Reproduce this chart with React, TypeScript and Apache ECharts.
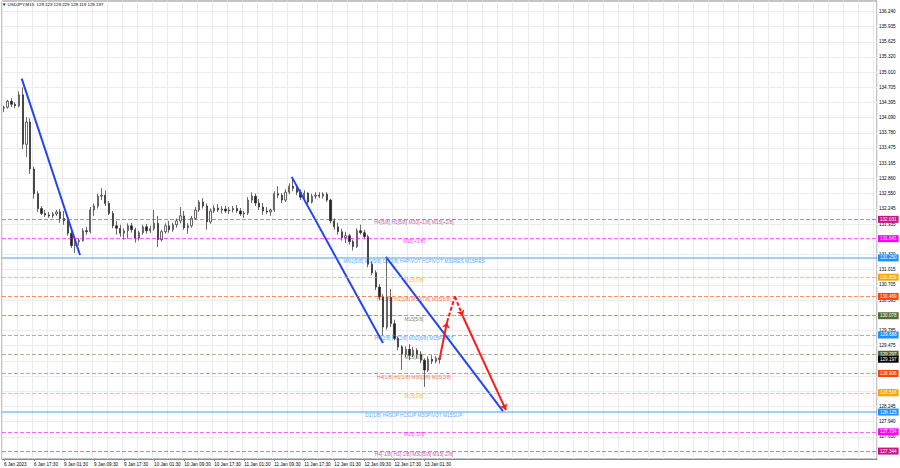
import React, { useEffect, useRef } from "react";
import * as echarts from "echarts";

const FONT = "'Liberation Sans', Arial, sans-serif";
const titleText = "▼ USDJPY,M15  129.123 129.229 129.119 129.197";

const SLOTS = 233;
const LABEL_STEP = 8;
const GRID_STEP = 4;
const timeLabels = [
  "6 Jan 2023", "6 Jan 17:30", "9 Jan 01:30", "9 Jan 09:30", "9 Jan 17:30",
  "10 Jan 01:30", "10 Jan 09:30", "10 Jan 17:30", "11 Jan 01:30", "11 Jan 09:30",
  "11 Jan 17:30", "12 Jan 01:30", "12 Jan 09:30", "12 Jan 17:30", "13 Jan 01:30",
];

// grid rows (price ticks) and the subset whose labels are not covered by a price tag
const priceTicks = [
  127.63, 127.94, 128.245, 128.55, 128.855, 129.165, 129.475, 129.785, 130.09, 130.395,
  130.705, 131.015, 131.32, 131.63, 131.935, 132.245, 132.55, 132.86, 133.165, 133.475,
  133.78, 134.09, 134.395, 134.705, 135.01, 135.32, 135.625, 135.935, 136.24,
];
const priceTickLabels = [
  127.63, 127.94, 128.245, 128.55, 129.165, 129.475, 129.785, 130.09, 130.395,
  130.705, 131.015, 131.32, 131.63, 131.935, 132.245, 132.55, 132.86, 133.165, 133.475,
  133.78, 134.09, 134.395, 134.705, 135.01, 135.32, 135.625, 135.935, 136.24,
];

const opens = [
  134.28, 134.30, 134.42, 134.36, 134.33, 134.55, 133.55, 134.00, 133.05, 132.55,
  132.25, 132.15, 132.12, 132.10, 132.14, 132.18, 132.05, 132.00, 131.75, 131.50,
  131.58, 131.60, 131.80, 131.78, 132.22, 132.30, 132.50, 132.52, 132.35, 132.15,
  131.90, 131.85, 131.75, 131.80, 131.90, 131.82, 131.65, 131.76, 131.88, 131.80,
  131.84, 131.95, 131.62, 131.78, 131.90, 131.82, 131.92, 132.00, 132.10, 131.86,
  131.90, 132.05, 132.22, 132.38, 132.30, 131.98, 132.20, 132.26, 132.22, 132.24,
  132.20, 132.22, 132.25, 132.20, 132.14, 132.16, 132.42, 132.50, 132.36, 132.28,
  132.20, 132.18, 132.22, 132.55, 132.52, 132.42, 132.58, 132.70, 132.66, 132.58,
  132.48, 132.56, 132.38, 132.50, 132.52, 132.50, 132.54, 132.42, 132.00, 131.88,
  131.78, 131.66, 131.70, 131.58, 131.48, 131.80, 131.76, 131.68, 131.12, 130.95,
  130.66, 130.46, 129.85, 130.45, 129.92, 129.62, 129.45, 129.30, 129.40, 129.28,
  129.38, 129.30, 129.18, 128.98, 129.20, 129.16, 129.22,
];
const highs = [
  134.33, 134.45, 134.48, 134.40, 134.62, 134.70, 134.10, 134.08, 133.10, 132.60,
  132.30, 132.22, 132.18, 132.18, 132.22, 132.24, 132.20, 132.05, 131.80, 131.62,
  131.65, 131.85, 131.88, 132.28, 132.35, 132.55, 132.66, 132.62, 132.40, 132.20,
  132.00, 131.92, 131.85, 131.95, 131.96, 131.86, 131.80, 131.92, 131.94, 131.90,
  132.22, 132.10, 131.82, 131.95, 132.00, 131.96, 132.05, 132.28, 132.20, 131.95,
  132.10, 132.28, 132.42, 132.46, 132.35, 132.25, 132.32, 132.34, 132.30, 132.30,
  132.28, 132.30, 132.32, 132.26, 132.20, 132.48, 132.58, 132.55, 132.44, 132.36,
  132.28, 132.25, 132.60, 132.70, 132.56, 132.64, 132.76, 132.85, 132.74, 132.64,
  132.62, 132.58, 132.55, 132.58, 132.58, 132.58, 132.58, 132.45, 132.05, 131.96,
  131.84, 131.78, 131.74, 131.62, 131.85, 131.92, 131.82, 131.72, 131.18, 131.00,
  130.72, 130.52, 131.25, 130.62, 130.00, 129.66, 129.48, 129.46, 129.50, 129.45,
  129.42, 129.36, 129.22, 129.26, 129.28, 129.26, 129.25,
];
const lows = [
  134.20, 134.27, 134.30, 134.28, 134.30, 133.45, 133.29, 132.95, 132.45, 132.18,
  132.12, 132.08, 132.06, 132.06, 132.10, 131.96, 131.92, 131.70, 131.45, 131.35,
  131.50, 131.58, 131.72, 131.74, 132.10, 132.25, 132.42, 132.30, 132.12, 131.85,
  131.72, 131.68, 131.62, 131.64, 131.76, 131.56, 131.60, 131.72, 131.74, 131.75,
  131.80, 131.47, 131.58, 131.74, 131.76, 131.78, 131.86, 131.95, 131.82, 131.74,
  131.86, 132.02, 132.18, 132.25, 131.82, 131.94, 132.16, 132.18, 132.15, 132.16,
  132.14, 132.17, 132.16, 132.10, 132.06, 132.12, 132.36, 132.30, 132.22, 132.12,
  132.14, 132.10, 132.18, 132.46, 132.36, 132.38, 132.54, 132.60, 132.52, 132.42,
  132.42, 132.32, 132.35, 132.44, 132.46, 132.45, 132.38, 131.95, 131.82, 131.72,
  131.60, 131.55, 131.52, 131.40, 131.45, 131.72, 131.64, 131.06, 130.90, 130.60,
  130.40, 129.68, 129.80, 129.85, 129.58, 129.38, 128.98, 129.24, 129.18, 129.24,
  129.22, 129.12, 128.64, 128.94, 129.10, 129.12, 129.11,
];
const closes = [
  134.30, 134.42, 134.36, 134.33, 134.55, 133.55, 134.00, 133.05, 132.55, 132.25,
  132.15, 132.12, 132.10, 132.14, 132.18, 132.05, 132.00, 131.75, 131.50, 131.58,
  131.60, 131.80, 131.78, 132.22, 132.30, 132.50, 132.52, 132.35, 132.15, 131.90,
  131.85, 131.75, 131.80, 131.90, 131.82, 131.65, 131.76, 131.88, 131.80, 131.84,
  131.95, 131.62, 131.78, 131.90, 131.82, 131.92, 132.00, 132.10, 131.86, 131.90,
  132.05, 132.22, 132.38, 132.30, 131.98, 132.20, 132.26, 132.22, 132.24, 132.20,
  132.22, 132.25, 132.20, 132.14, 132.16, 132.42, 132.50, 132.36, 132.28, 132.20,
  132.18, 132.22, 132.55, 132.52, 132.42, 132.58, 132.70, 132.66, 132.58, 132.48,
  132.56, 132.38, 132.50, 132.52, 132.50, 132.54, 132.42, 132.00, 131.88, 131.78,
  131.66, 131.70, 131.58, 131.48, 131.80, 131.76, 131.68, 131.12, 130.95, 130.66,
  130.46, 129.85, 130.45, 129.92, 129.62, 129.45, 129.30, 129.40, 129.28, 129.38,
  129.30, 129.18, 128.98, 129.20, 129.16, 129.22, 129.197,
];

const levelPrices = [
  132.031, 131.641, 131.25, 130.859, 130.469, 130.078, 129.688,
  129.297, 128.906, 128.516, 128.125, 127.734, 127.344,
];
const levelTexts = [
  "H4[5/8] H1[5/8] M30[+1/8] M15[+2/8]",
  "M15[+1/8]",
  "MN1[5/8] W1[5/8] D1[2/8] H4PIVOT H1PIVOT M30RES M15RES",
  "M15[7/8]",
  "H4[3/8] H1[3/8] M30[7/8] M15[6/8]",
  "M15[5/8]",
  "H4[2/8] H1[2/8] M30[6/8] M15PIVOT",
  "M15[3/8]",
  "H4[1/8] H1[1/8] M30[3/8] M15[2/8]",
  "M15[1/8]",
  "D1[1/8] H4SUP H1SUP M30PIVOT M15SUP",
  "M15[-1/8]",
  "H4[-1/8] H1[-1/8] M30[5/8] M15[-2/8]",
];
const levelColors = [
  "#C71585", "#FF00FF", "#1E90FF", "#FFA500", "#FF4500", "#556B2F", "#1E90FF",
  "#556B2F", "#FF4500", "#FFA500", "#1E90FF", "#FF00FF", "#C71585",
];
const levelLineColors = [
  "rgba(199,21,133,0.6)", "rgba(255,0,255,0.6)", "rgba(30,144,255,0.42)", "rgba(255,165,0,0.65)",
  "rgba(255,69,0,0.6)", "rgba(85,107,47,0.55)", "rgba(30,144,255,0.6)", "rgba(85,107,47,0.5)",
  "rgba(255,69,0,0.6)", "rgba(255,165,0,0.65)", "rgba(30,144,255,0.42)", "rgba(255,0,255,0.6)",
  "rgba(199,21,133,0.6)",
];
const levelMajor = [false, false, true, false, false, false, false, false, false, false, true, false, false];
const bidPrice = 129.197;
const LEVEL_LABEL_X = 109.2;

const blueTrends = [
  [[4.75, 134.88], [20.27, 131.31]],
  [[76.64, 132.89], [100.95, 129.53]],
  [[101.75, 131.27], [132.9, 128.15]],
];
const redArrowSegments = [
  { coords: [[116, 129.197], [118.0, 129.95]], dashed: false },
  { coords: [[120.1, 130.47], [122.2, 130.07]], dashed: true },
  { coords: [[122.2, 130.07], [133.7, 128.17]], dashed: false },
];
const redPlainSegments = [
  { coords: [[118.0, 129.95], [120.1, 130.47]], dashed: true },
];

export default function App() {
  const ref = useRef<HTMLDivElement>(null);
  useEffect(() => {
    if (!ref.current) return;
    const chart = echarts.init(ref.current, undefined, { renderer: "svg" });
    const categories = Array.from({ length: SLOTS }, (_, i) => String(i));
    const candleData = opens.map((o, i) => [o, closes[i], lows[i], highs[i]]);
    const showTimeLabel = (i: number) => i % LABEL_STEP === 0 && i / LABEL_STEP < timeLabels.length;

    const tagLabel = (text: string, bg: string) => ({
      show: true,
      position: "end",
      distance: 1,
      formatter: () => text,
      backgroundColor: bg,
      color: "#ffffff",
      padding: [1.2, 2, 0.8, 2],
      fontSize: 4.6,
      fontFamily: FONT,
    });

    const markData: any[] = levelPrices.map((p, i) => ({
      yAxis: p,
      lineStyle: levelMajor[i]
        ? { color: levelLineColors[i], width: 2, type: "solid" }
        : { color: levelLineColors[i], width: 1, type: [4, 2] },
      label: tagLabel(p.toFixed(3), levelColors[i]),
    }));
    markData.push({
      yAxis: bidPrice,
      lineStyle: { color: "rgba(0,0,0,0)", width: 0 },
      label: tagLabel(bidPrice.toFixed(3), "#000000"),
    });

    const option: any = {
      animation: false,
      backgroundColor: "#ffffff",
      title: {
        text: titleText,
        left: 2,
        top: 2,
        padding: 0,
        textStyle: { fontSize: 4.4, fontWeight: "normal", color: "#000", fontFamily: FONT },
      },
      grid: {
        left: 2, right: 23, top: 1, bottom: 9,
        show: true, borderColor: "#8a8a8a", borderWidth: 1, backgroundColor: "#ffffff",
      },
      xAxis: [
        {
          type: "category",
          data: categories,
          boundaryGap: true,
          axisLine: { show: true, lineStyle: { color: "#8a8a8a", width: 1 } },
          axisTick: {
            show: true, alignWithLabel: true, length: 2,
            interval: (i: number) => showTimeLabel(i),
            lineStyle: { color: "#8a8a8a" },
          },
          axisLabel: {
            interval: (i: number) => showTimeLabel(i),
            formatter: (v: string) => timeLabels[Number(v) / LABEL_STEP] ?? "",
            align: "left",
            fontSize: 4.6,
            color: "#000",
            margin: 2.5,
            fontFamily: FONT,
          },
          splitLine: {
            show: true,
            interval: (i: number) => i % GRID_STEP === 0,
            lineStyle: { color: "#ececec", width: 1 },
          },
        },
        { type: "value", min: -0.5, max: SLOTS - 0.5, show: false },
      ],
      yAxis: {
        type: "value",
        position: "right",
        min: 127.18,
        max: 136.45,
        axisLine: { show: false },
        axisTick: { show: false, customValues: priceTicks },
        axisLabel: {
          customValues: priceTickLabels,
          formatter: (v: number) => v.toFixed(3),
          fontSize: 4.6,
          color: "#000",
          margin: 2,
          fontFamily: FONT,
        },
        splitLine: { show: true, lineStyle: { color: "#ececec", width: 1 } },
      },
      series: [
        {
          type: "scatter",
          name: "levels",
          xAxisIndex: 1,
          yAxisIndex: 0,
          symbolSize: 1,
          itemStyle: { color: "rgba(0,0,0,0)" },
          z: 1,
          silent: true,
          data: levelPrices.map((p, i) => ({
            value: [LEVEL_LABEL_X, p],
            label: { color: levelColors[i], formatter: levelTexts[i] },
          })),
          label: {
            show: true,
            position: "bottom",
            distance: 0.3,
            fontSize: 4.9,
            fontFamily: FONT,
          },
          labelLayout: { hideOverlap: false },
          markLine: {
            silent: true,
            symbol: ["none", "none"],
            animation: false,
            data: markData,
          },
        },
        {
          type: "candlestick",
          name: "USDJPY",
          xAxisIndex: 0,
          yAxisIndex: 0,
          barWidth: 1.8,
          z: 3,
          data: candleData,
          itemStyle: {
            color: "#ffffff",
            color0: "#222222",
            borderColor: "#2a2a2a",
            borderColor0: "#2a2a2a",
            borderWidth: 0.7,
          },
        },
        {
          type: "lines",
          name: "trend",
          coordinateSystem: "cartesian2d",
          xAxisIndex: 1,
          yAxisIndex: 0,
          z: 4,
          symbol: ["none", "none"],
          lineStyle: { color: "#2445f0", width: 2, opacity: 1 },
          data: blueTrends.map((c) => ({ coords: c })),
        },
        {
          type: "lines",
          name: "forecastArrows",
          coordinateSystem: "cartesian2d",
          xAxisIndex: 1,
          yAxisIndex: 0,
          z: 5,
          symbol: ["none", "arrow"],
          symbolSize: [5, 6],
          lineStyle: { color: "#ff1a1a", width: 2, opacity: 1 },
          data: redArrowSegments.map((s) => ({
            coords: s.coords,
            lineStyle: { type: s.dashed ? [4, 2] : "solid" },
          })),
        },
        {
          type: "lines",
          name: "forecastPlain",
          coordinateSystem: "cartesian2d",
          xAxisIndex: 1,
          yAxisIndex: 0,
          z: 5,
          symbol: ["none", "none"],
          lineStyle: { color: "#ff1a1a", width: 2, opacity: 1 },
          data: redPlainSegments.map((s) => ({
            coords: s.coords,
            lineStyle: { type: s.dashed ? [4, 2] : "solid" },
          })),
        },
      ],
    };
    chart.setOption(option);
    return () => chart.dispose();
  }, []);
  return (
    <div
      ref={ref}
      style={{ position: "fixed", left: 0, top: 0, width: 900, height: 468, background: "#fff" }}
    />
  );
}
